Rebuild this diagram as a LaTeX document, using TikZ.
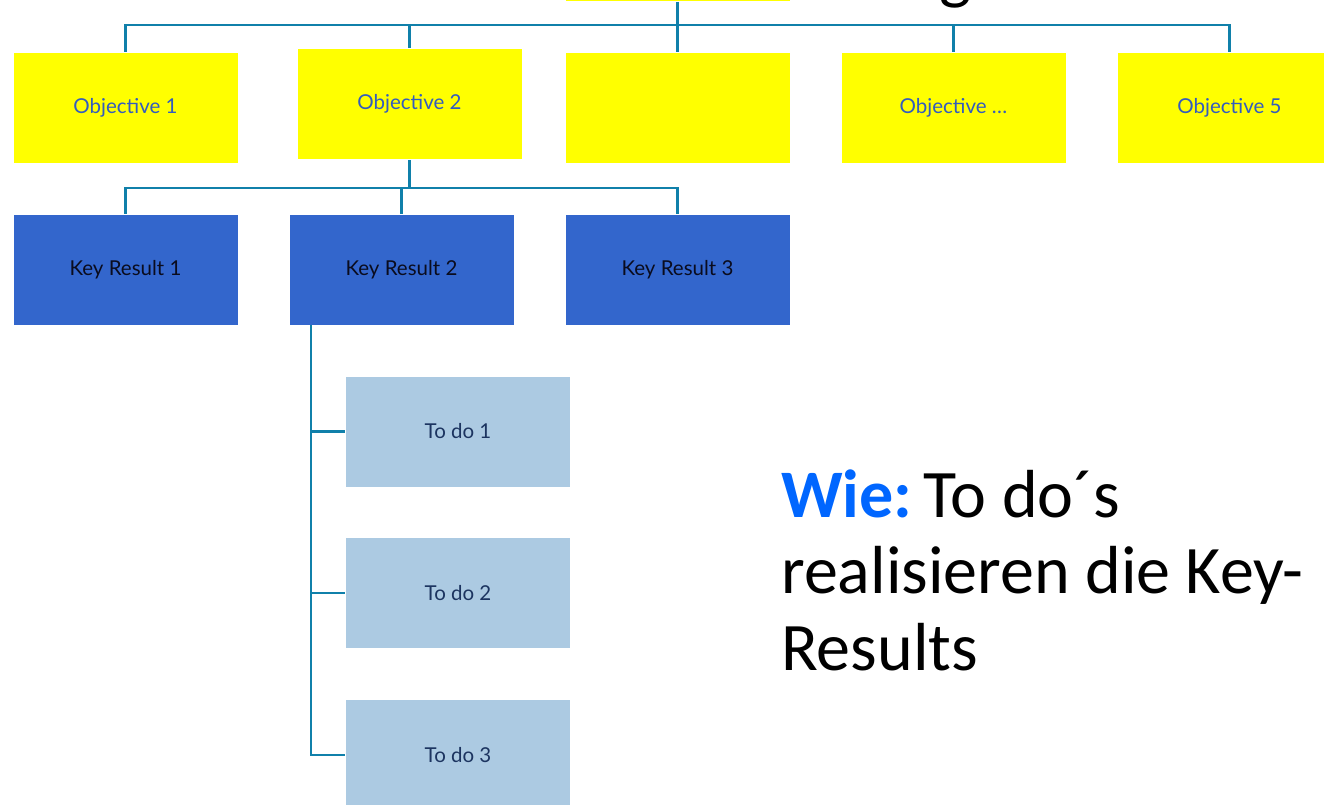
\documentclass[tikz,border=0pt]{standalone}
\usepackage{fontspec}
\setmainfont{Carlito}
\newfontfamily\boxfont{Lato}
\definecolor{objyellow}{RGB}{255,255,0}
\definecolor{objtext}{RGB}{51,92,190}
\definecolor{krblue}{RGB}{51,102,204}
\definecolor{krtext}{RGB}{10,12,30}
\definecolor{todofill}{RGB}{172,202,226}
\definecolor{todotext}{RGB}{28,52,96}
\definecolor{connc}{RGB}{16,128,170}
\definecolor{wieblue}{RGB}{0,102,255}
\begin{document}
\begin{tikzpicture}[x=1pt,y=-1pt,
  basebox/.style={rectangle,inner sep=0pt,minimum width=225pt,minimum height=111pt,
    draw=white,line width=0.8pt,font=\boxfont\fontsize{20.5}{24}\selectfont},
  objbox/.style={basebox,fill=objyellow,text=objtext},
  krbox/.style={basebox,fill=krblue,text=krtext},
  todobox/.style={basebox,fill=todofill,text=todotext},
  conn/.style={draw=connc,line width=2.2pt}]
\useasboundingbox (0,0) rectangle (1324,804);
\clip (0,0) rectangle (1324,804);
% partially visible top elements
\node[objbox] (top) at (677.5,-54) {};
\node[anchor=base west,inner sep=0pt,font=\fontsize{68}{80}\selectfont] (title) at (939,-4) {g};
% objectives
\node[objbox] (o1) at (125.5,107.5) {Objective 1};
\node[objbox] (o2) at (409.5,104) {Objective 2};
\node[objbox] (o3) at (677.5,107.5) {};
\node[objbox] (o4) at (953.5,107.5) {Objective \dots};
\node[objbox] (o5) at (1229.5,107.5) {Objective 5};
% key results
\node[krbox] (k1) at (125.5,269.5) {Key Result 1};
\node[krbox] (k2) at (401.5,269.5) {Key Result 2};
\node[krbox] (k3) at (677.5,269.5) {Key Result 3};
% to dos
\node[todobox] (t1) at (458,431.5) {To do 1};
\node[todobox] (t2) at (458,593) {To do 2};
\node[todobox] (t3) at (458,755) {To do 3};
% bus coordinates
\coordinate (bus1) at (0,25);
\coordinate (bus2) at (0,188);
\coordinate (spine) at (311,0);
% top connectors
\draw[conn] (top.south) -- (top.south |- bus1);
\draw[conn] (o1.north) |- (o5.north |- bus1) -- (o5.north);
\draw[conn] (o2.north) -- (o2.north |- bus1);
\draw[conn] (o3.north) -- (o3.north |- bus1);
\draw[conn] (o4.north) -- (o4.north |- bus1);
% objective 2 to key results
\draw[conn] (o2.south) -- (o2.south |- bus2);
\draw[conn] (k1.north) |- (k3.north |- bus2) -- (k3.north);
\draw[conn] (k2.north) -- (k2.north |- bus2);
% key result 2 to to dos
\draw[conn] (k2.south -| spine) |- (t3.west);
\draw[conn] (spine |- t1.west) -- (t1.west);
\draw[conn] (spine |- t2.west) -- (t2.west);
% explanation text
\node[anchor=base west,inner sep=0pt,align=left,font=\fontsize{68}{76.5}\selectfont] (wie) at (781,670)
  {\textcolor{wieblue}{\bfseries Wie:}\,To do\textasciiacute s\\realisieren die Key-\\Results};
\end{tikzpicture}
\end{document}
